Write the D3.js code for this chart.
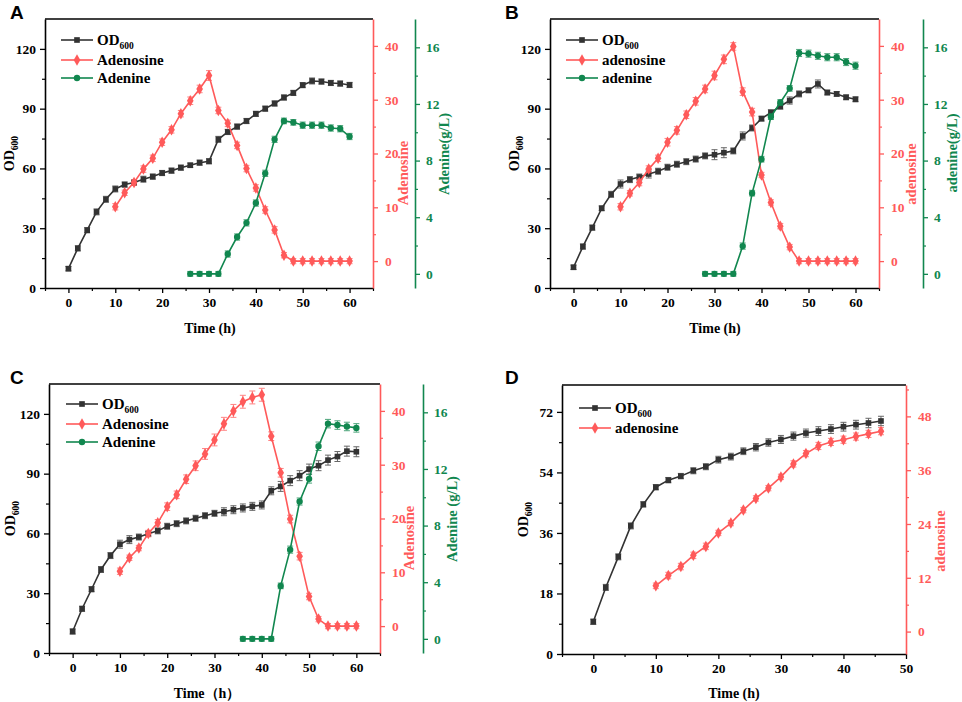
<!DOCTYPE html>
<html><head><meta charset="utf-8">
<script src="https://cdn.jsdelivr.net/npm/d3@7"></script>
<style>body{margin:0;background:#fff}svg{display:block}</style>
</head><body>
<svg id="c" width="962" height="702"></svg>
<script>
// ---------- DATA ----------
const tOdA = [0,2,4,6,8,10,12,14,16,18,20,22,24,26,28,30,32,34,36,38,40,42,44,46,48,50,52,54,56,58,60];
const odA = [9.7,19.9,29,38.2,44.5,49.7,51.9,52.9,54.6,55.9,57.7,58.9,60.4,61.6,62.9,63.6,74.6,78.3,81,83.8,87.4,90,92.6,95.6,97.9,101.8,103.9,103.6,102.9,102.6,101.9];
const errOdA = [0.6,0.8,0.8,1,1.5,1,0.8,0.8,1,0.8,0.8,0.8,0.8,0.6,0.8,0.8,1,0.8,0.8,0.8,0.8,0.8,0.8,0.8,0.8,0.8,1,0.8,0.8,0.8,0.8];
const tAdoA = [10,12,14,16,18,20,22,24,26,28,30,32,34,36,38,40,42,44,46,48,50,52,54,56,58,60];
const adoA = [10.1,12.7,14.6,17.1,19.1,22.1,24.4,27.4,29.8,32,34.5,28,25.6,21.5,17.2,13.6,9.5,5.8,1.1,0,0,0,0,0,0,0];
const errAdoA = [0.4,0.5,0.5,0.6,0.6,0.6,0.6,0.6,0.7,0.7,0.9,0.6,0.6,0.6,0.6,0.6,0.6,0.6,0.5,0.3,0.3,0.3,0.3,0.3,0.3,0.3];
const tAdeA = [26,28,30,32,34,36,38,40,42,44,46,48,50,52,54,56,58,60];
const adeA = [0,0,0,0,1.4,2.6,3.6,5,7.1,9.5,10.8,10.7,10.5,10.5,10.5,10.3,10.25,9.7];
const errAdeA = [0.1,0.1,0.1,0.1,0.15,0.15,0.15,0.15,0.15,0.15,0.2,0.2,0.15,0.15,0.15,0.15,0.15,0.15];

const tOdB = [0,2,4,6,8,10,12,14,16,18,20,22,24,26,28,30,32,34,36,38,40,42,44,46,48,50,52,54,56,58,60];
const odB = [10.4,20.8,30.3,40,47,52.2,54.4,55.7,57.2,58.6,60.6,62.1,63.4,64.7,66.3,66.9,67.9,68.8,76.3,80.3,85,88,91.2,94.1,97.4,99.2,102.4,98.1,97.4,95.7,94.7];
const errOdB = [0.6,0.8,0.8,1.2,1.5,2,1,1,2,1,1.5,1,1,1.5,1.5,2.5,2.5,1.5,2,1.5,1.2,1.5,1.5,1.8,1.5,1.2,2,1.2,1.2,1.2,1.2];
const tAdoB = [10,12,14,16,18,20,22,24,26,28,30,32,34,36,38,40,42,44,46,48,50,52,54,56,58,60];
const adoB = [10.1,12.6,14.6,17.1,19.1,22.1,24.3,27.2,29.7,32,34.5,37.5,39.9,31.5,27.7,16,10.9,6.5,2.6,0,0,0,0,0,0,0];
const errAdoB = [0.4,0.5,0.6,0.6,0.6,0.7,0.7,0.7,0.7,0.7,0.8,0.8,0.7,0.7,0.7,0.5,0.5,0.5,0.5,0.3,0.3,0.3,0.3,0.3,0.3,0.3];
const tAdeB = [28,30,32,34,36,38,40,42,44,46,48,50,52,54,56,58,60];
const adeB = [0,0,0,0,1.96,5.7,8.1,11.1,12.1,13.1,15.6,15.55,15.4,15.3,15.3,14.96,14.7];
const errAdeB = [0.1,0.1,0.1,0.1,0.15,0.2,0.2,0.2,0.2,0.2,0.25,0.25,0.25,0.25,0.25,0.25,0.25];

const tOdC = [0,2,4,6,8,10,12,14,16,18,20,22,24,26,28,30,32,34,36,38,40,42,44,46,48,50,52,54,56,58,60];
const odC = [10.8,22.2,32,41.9,48.9,54.6,56.9,58.2,59.9,61.3,63.6,64.9,66.3,67.6,68.9,70.1,70.9,71.9,72.8,73.6,74.3,81.4,83.6,86.5,89,92.3,94,96.8,98.6,101.3,101];
const errOdC = [0.8,0.8,0.8,1,1.5,2,2,1.5,1.2,1.5,1.5,1.5,1.5,1.5,1.5,1.5,2,2,2,2,2,2,2.5,2.5,2.5,2.5,2.5,2.5,2.5,2.5,2.5];
const tAdoC = [10,12,14,16,18,20,22,24,26,28,30,32,34,36,38,40,42,44,46,48,50,52,54,56,58,60];
const adoC = [10.2,12.7,14.5,17.2,19.2,22.2,24.4,27.3,29.8,32,34.6,37.6,40,41.7,42.5,43,35.3,28.5,19.9,13,5.5,1.3,0,0,0,0];
const errAdoC = [0.4,0.5,0.5,0.6,0.6,0.7,0.7,0.8,0.9,1,1.1,1.2,1.2,1.2,1.2,1.2,0.8,0.8,0.7,0.7,0.6,0.5,0.3,0.3,0.3,0.3];
const tAdeC = [36,38,40,42,44,46,48,50,52,54,56,58,60];
const adeC = [0,0,0,0,3.74,6.3,9.7,11.3,13.6,15.2,15.1,15.0,14.9];
const errAdeC = [0.1,0.1,0.1,0.1,0.2,0.25,0.25,0.3,0.3,0.3,0.3,0.3,0.3];

const tOdD = [0,2,4,6,8,10,12,14,16,18,20,22,24,26,28,30,32,34,36,38,40,42,44,46];
const odD = [9.6,19.8,28.9,38.1,44.5,49.6,51.7,52.9,54.5,55.7,57.8,58.7,60.3,61.5,62.9,63.8,64.8,65.7,66.3,66.9,67.6,68.2,68.7,69.3];
const errOdD = [0.5,0.6,0.6,0.6,0.8,0.8,0.8,0.8,0.9,0.9,1,1,1,1.1,1.1,1.2,1.2,1.2,1.3,1.3,1.3,1.3,1.4,1.4];
const tAdoD = [10,12,14,16,18,20,22,24,26,28,30,32,34,36,38,40,42,44,46];
const adoD = [10.2,12.5,14.5,17,19,22,24.2,27.1,29.7,32,34.5,37.4,39.7,41.4,42.3,42.8,43.5,44.1,44.7];
const errAdoD = [0.4,0.5,0.5,0.5,0.5,0.6,0.6,0.6,0.6,0.6,0.6,0.7,0.7,0.8,0.8,0.8,0.8,0.8,0.8];

const xTicks60 = [0,10,20,30,40,50,60];
const xTicks50 = [0,10,20,30,40,50];
const odTicks = [0,30,60,90,120];
const odTicksD = [0,18,36,54,72];
const adoTicks = [0,10,20,30,40];
const adoTicksD = [0,12,24,36,48];
const adeTicks = [0,4,8,12,16];

// ---------- STYLE ----------
const BLACK = "#333333", RED = "#ff5a5a", GREEN = "#11874f";
const SERIF = "Liberation Serif";
const svg = d3.select("#c");

function zip(t, v, e){ return t.map((x,i)=>({x, y:v[i], e:e[i]})); }

function symbolFor(kind){
  if(kind==="square") return d3.symbol().type(d3.symbolSquare).size(32);
  if(kind==="diamond") return d3.symbol().type(d3.symbolDiamond).size(38);
  return d3.symbol().type(d3.symbolCircle).size(32);
}

function styleAxis(g, color){
  g.attr("font-family", null).attr("font-size", null);
  g.selectAll("path.domain").attr("stroke", color).attr("stroke-width", 1.6);
  g.selectAll(".tick line").attr("stroke", color).attr("stroke-width", 1.3);
  g.selectAll("text").attr("fill", color).attr("font-family", SERIF)
    .attr("font-weight", "bold").attr("font-size", "13.5px");
}

function axisWithMinor(g, axisFn, scale, major, minor, color){
  const a = axisFn(scale).tickValues(major).tickSizeInner(5).tickSizeOuter(0).tickPadding(4);
  const ga = g.append("g").call(a);
  styleAxis(ga, color);
  const m = axisFn(scale).tickValues(minor).tickSize(3).tickFormat("");
  const gm = g.append("g").call(m);
  gm.select("path.domain").remove();
  gm.selectAll(".tick line").attr("stroke", color).attr("stroke-width", 1.2);
  return ga;
}

function drawSeries(g, x, y, data, color, kind){
  const line = d3.line().x(d=>x(d.x)).y(d=>y(d.y));
  g.append("path").datum(data).attr("d", line).attr("fill","none")
    .attr("stroke", color).attr("stroke-width", 1.6);
  const eb = g.append("g").attr("stroke", color).attr("stroke-width", 1).attr("opacity", 0.75);
  data.forEach(d=>{
    if(d.e<=0) return;
    const y1 = y(d.y - d.e), y2 = y(d.y + d.e), xc = x(d.x);
    if(Math.abs(y1-y2) < 4.5) {
      eb.append("line").attr("x1", xc-3).attr("x2", xc+3).attr("y1", y2-1).attr("y2", y2-1);
      eb.append("line").attr("x1", xc-3).attr("x2", xc+3).attr("y1", y1+1).attr("y2", y1+1);
      eb.append("line").attr("x1", xc).attr("x2", xc).attr("y1", y2-1).attr("y2", y1+1);
    } else {
      eb.append("line").attr("x1", xc).attr("x2", xc).attr("y1", y1).attr("y2", y2);
      eb.append("line").attr("x1", xc-3).attr("x2", xc+3).attr("y1", y1).attr("y2", y1);
      eb.append("line").attr("x1", xc-3).attr("x2", xc+3).attr("y1", y2).attr("y2", y2);
    }
  });
  g.append("g").selectAll("path").data(data).join("path")
    .attr("transform", d=>`translate(${x(d.x)},${y(d.y)})`)
    .attr("d", symbolFor(kind)()).attr("fill", color);
}

function textWithSub(sel, main, sub){
  sel.append("tspan").text(main);
  if(sub) sel.append("tspan").attr("dy", 4).attr("font-size", "9.5px").text(sub);
}

function panel(cfg){
  const g = svg.append("g");
  const x = d3.scaleLinear().domain(cfg.xDomain).range([cfg.left, cfg.right]);
  const yL = d3.scaleLinear().domain(cfg.odDomain).range([cfg.bottom, cfg.top]);
  const yR = d3.scaleLinear().domain(cfg.adoDomain).range([cfg.bottom, cfg.top]);

  g.append("line").attr("x1", cfg.left).attr("x2", cfg.right).attr("y1", cfg.top).attr("y2", cfg.top)
    .attr("stroke", "#000").attr("stroke-width", 1.6);

  const gx = g.append("g").attr("transform", `translate(0,${cfg.bottom})`);
  axisWithMinor(gx, d3.axisBottom, x, cfg.xTicks, cfg.xMinor, "#000");
  const gy = g.append("g").attr("transform", `translate(${cfg.left},0)`);
  axisWithMinor(gy, d3.axisLeft, yL, cfg.odTicks, cfg.odMinor, "#000");
  const gr = g.append("g").attr("transform", `translate(${cfg.right},0)`);
  axisWithMinor(gr, d3.axisRight, yR, cfg.adoTicks, cfg.adoMinor, RED);
  gr.selectAll("text").attr("dx", 3);

  let yG = null;
  if(cfg.ade){
    yG = d3.scaleLinear().domain(cfg.adeDomain).range([cfg.bottom, cfg.top]);
    const gg = g.append("g").attr("transform", `translate(${cfg.greenX},0)`);
    axisWithMinor(gg, d3.axisRight, yG, adeTicks, cfg.adeMinor, GREEN);
    gg.selectAll("text").attr("dx", 2);
  }

  drawSeries(g, x, yL, cfg.od, BLACK, "square");
  drawSeries(g, x, yR, cfg.ado, RED, "diamond");
  if(cfg.ade) drawSeries(g, x, yG, cfg.ade, GREEN, "circle");

  const leg = g.append("g");
  cfg.legend.forEach((L, i)=>{
    const yy = cfg.legY[i];
    leg.append("line").attr("x1", cfg.legX).attr("x2", cfg.legX+32).attr("y1", yy).attr("y2", yy)
      .attr("stroke", L.color).attr("stroke-width", 1.6);
    leg.append("path").attr("transform", `translate(${cfg.legX+16},${yy})`)
      .attr("d", symbolFor(L.kind)()).attr("fill", L.color);
    const t = leg.append("text").attr("x", cfg.legX+36).attr("y", yy+5)
      .attr("font-family", SERIF).attr("font-weight","bold").attr("font-size","15px").attr("fill","#000");
    textWithSub(t, L.name, L.sub);
  });

  const oy = g.append("text").attr("transform", `translate(${cfg.odTitleX},${(cfg.top+cfg.bottom)/2}) rotate(-90)`)
    .attr("text-anchor","middle").attr("font-family", SERIF).attr("font-weight","bold").attr("font-size","14px");
  textWithSub(oy, "OD", "600");

  g.append("text").attr("transform", `translate(${cfg.redTitleX},${cfg.redTitleY}) rotate(-90)`)
    .attr("text-anchor","middle").attr("fill", RED).attr("font-family", SERIF)
    .attr("font-weight","bold").attr("font-size","14.5px").text(cfg.redTitle);
  if(cfg.ade){
    g.append("text").attr("transform", `translate(${cfg.greenTitleX},${cfg.greenTitleY}) rotate(-90)`)
      .attr("text-anchor","middle").attr("fill", GREEN).attr("font-family", SERIF)
      .attr("font-weight","bold").attr("font-size","14.5px").text(cfg.greenTitle);
  }
  g.append("text").attr("x", cfg.timeX).attr("y", cfg.timeY).attr("text-anchor","middle")
    .attr("font-family", SERIF).attr("font-weight","bold").attr("font-size","14px").text(cfg.timeLabel);

  g.append("text").attr("x", cfg.letterX).attr("y", cfg.letterY)
    .attr("font-family","Liberation Sans").attr("font-weight","bold")
    .attr("font-size","19px").text(cfg.letter);
}

const minorX60 = [-5,5,15,25,35,45,55,65];
const minorX50 = [-5,5,15,25,35,45];

panel({
  letter:"A", letterX:10, letterY:19,
  left:45, right:373, top:19, bottom:288, greenX:415,
  xDomain:[-5,65], xTicks:xTicks60, xMinor:minorX60,
  odDomain:[0,135], odTicks:odTicks, odMinor:[15,45,75,105],
  adoDomain:[-5,45], adoTicks:adoTicks, adoMinor:[5,15,25,35],
  adeDomain:[-1,18], adeMinor:[2,6,10,14],
  od:zip(tOdA,odA,errOdA), ado:zip(tAdoA,adoA,errAdoA), ade:zip(tAdeA,adeA,errAdeA),
  legX:61, legY:[40,60,78],
  legend:[{name:"OD",sub:"600",color:BLACK,kind:"square"},{name:"Adenosine",color:RED,kind:"diamond"},{name:"Adenine",color:GREEN,kind:"circle"}],
  odTitleX:14, redTitle:"Adenosine", redTitleX:408, redTitleY:173,
  greenTitle:"Adenine(g/L)", greenTitleX:449, greenTitleY:154,
  timeLabel:"Time (h)", timeX:210, timeY:333
});

panel({
  letter:"B", letterX:505, letterY:19,
  left:550, right:879, top:19, bottom:288, greenX:923,
  xDomain:[-5,65], xTicks:xTicks60, xMinor:minorX60,
  odDomain:[0,135], odTicks:odTicks, odMinor:[15,45,75,105],
  adoDomain:[-5,45], adoTicks:adoTicks, adoMinor:[5,15,25,35],
  adeDomain:[-1,18], adeMinor:[2,6,10,14],
  od:zip(tOdB,odB,errOdB), ado:zip(tAdoB,adoB,errAdoB), ade:zip(tAdeB,adeB,errAdeB),
  legX:566, legY:[40,60,78],
  legend:[{name:"OD",sub:"600",color:BLACK,kind:"square"},{name:"adenosine",color:RED,kind:"diamond"},{name:"adenine",color:GREEN,kind:"circle"}],
  odTitleX:519, redTitle:"adenosine", redTitleX:916, redTitleY:174,
  greenTitle:"adenine(g/L)", greenTitleX:957, greenTitleY:153,
  timeLabel:"Time (h)", timeX:715, timeY:333
});

panel({
  letter:"C", letterX:10, letterY:384,
  left:49, right:380, top:384, bottom:653, greenX:423,
  xDomain:[-5,65], xTicks:xTicks60, xMinor:minorX60,
  odDomain:[0,135], odTicks:odTicks, odMinor:[15,45,75,105],
  adoDomain:[-5,45], adoTicks:adoTicks, adoMinor:[5,15,25,35],
  adeDomain:[-1,18], adeMinor:[2,6,10,14],
  od:zip(tOdC,odC,errOdC), ado:zip(tAdoC,adoC,errAdoC), ade:zip(tAdeC,adeC,errAdeC),
  legX:66, legY:[404,424,442],
  legend:[{name:"OD",sub:"600",color:BLACK,kind:"square"},{name:"Adenosine",color:RED,kind:"diamond"},{name:"Adenine",color:GREEN,kind:"circle"}],
  odTitleX:15, redTitle:"Adenosine", redTitleX:414, redTitleY:538,
  greenTitle:"Adenine (g/L)", greenTitleX:457, greenTitleY:519,
  timeLabel:"Time\uFF08h\uFF09", timeX:207, timeY:698
});

panel({
  letter:"D", letterX:505, letterY:384,
  left:562, right:906, top:385, bottom:654,
  xDomain:[-5,50], xTicks:xTicks50, xMinor:minorX50,
  odDomain:[0,80], odTicks:odTicksD, odMinor:[9,27,45,63],
  adoDomain:[-5,55], adoTicks:adoTicksD, adoMinor:[6,18,30,42,54],
  od:zip(tOdD,odD,errOdD), ado:zip(tAdoD,adoD,errAdoD), ade:null,
  legX:579, legY:[408,428],
  legend:[{name:"OD",sub:"600",color:BLACK,kind:"square"},{name:"adenosine",color:RED,kind:"diamond"}],
  odTitleX:528, redTitle:"adenosine", redTitleX:945, redTitleY:541,
  timeLabel:"Time (h)", timeX:734, timeY:698
});
</script>
</body></html>
